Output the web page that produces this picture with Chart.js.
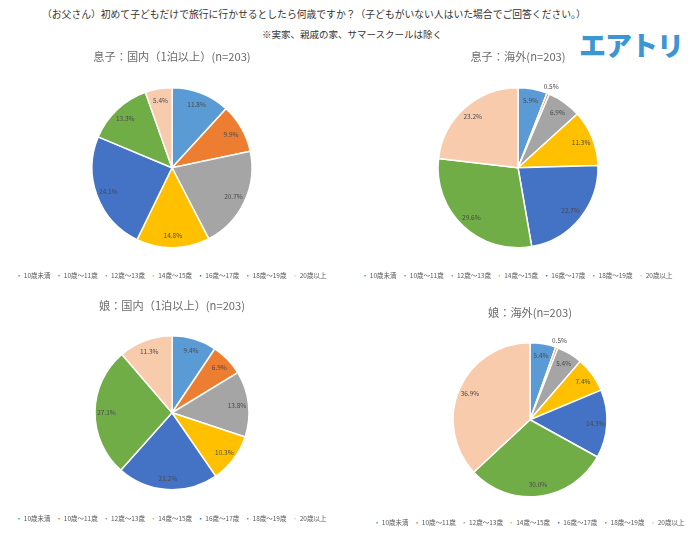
<!DOCTYPE html>
<html>
<head>
<meta charset="utf-8">
<script src="https://cdn.jsdelivr.net/npm/chart.js@4"></script>
<style>
  body { margin: 0; background: #fff; width: 700px; height: 546px; position: relative; overflow: hidden;
         font-family: "Noto Sans CJK JP", "Noto Sans", sans-serif; }
  .txt { position: absolute; white-space: nowrap; color: #333; }
  canvas { position: absolute; }
</style>
</head>
<body>
<div class="txt" id="q1" style="left:42px; top:7px; font-size:9.8px;">（お父さん）初めて子どもだけで旅行に行かせるとしたら何歳ですか？（子どもがいない人はいた場合でご回答ください。）</div>
<div class="txt" id="q2" style="left:262px; top:27px; font-size:9.5px;">※実家、親戚の家、サマースクールは除く</div>
<div class="txt" id="logo" style="left:579px; top:25px; font-size:27px; font-weight:900; color:#3c96d2; letter-spacing:-1px;">エアトリ</div>

<canvas id="c1"></canvas>
<canvas id="c2"></canvas>
<canvas id="c3"></canvas>
<canvas id="c4"></canvas>

<script>
// age groups
const ageLabels = ['10歳未満', '10歳～11歳', '12歳～13歳', '14歳～15歳', '16歳～17歳', '18歳～19歳', '20歳以上'];
const ageColors = ['#5B9BD5', '#ED7D31', '#A5A5A5', '#FFC000', '#4472C4', '#70AD47', '#F8CBAD'];

// percentages (%)
const sonDomestic = [11.8, 9.9, 20.7, 14.8, 24.1, 13.3, 5.4];
const sonOverseas = [5.9, 0.5, 6.9, 11.3, 22.7, 29.6, 23.2];
const daughterDomestic = [9.4, 6.9, 13.8, 10.3, 21.2, 27.1, 11.3];
const daughterOverseas = [5.4, 0.5, 5.4, 7.4, 14.3, 30.0, 36.9];

const titles = [
  '息子：国内（1泊以上）(n=203)',
  '息子：海外(n=203)',
  '娘：国内（1泊以上）(n=203)',
  '娘：海外(n=203)',
];

const FONT = '"Noto Sans CJK JP", "Noto Sans", sans-serif';

// draws the % labels on each slice
const sliceLabels = {
  id: 'sliceLabels',
  afterDatasetsDraw(chart) {
    const ctx = chart.ctx;
    const meta = chart.getDatasetMeta(0);
    const data = chart.data.datasets[0].data;
    ctx.save();
    ctx.font = '6.5px ' + FONT;
    ctx.fillStyle = '#4a4a4a';
    ctx.textAlign = 'center';
    ctx.textBaseline = 'middle';
    meta.data.forEach((arc, i) => {
      const { x, y, startAngle, endAngle, outerRadius } = arc.getProps(['x', 'y', 'startAngle', 'endAngle', 'outerRadius'], true);
      const mid = (startAngle + endAngle) / 2;
      const d = data[i] < 2 ? outerRadius * 1.1 : outerRadius * 0.85;
      ctx.fillText(data[i].toFixed(1) + '%', x + Math.cos(mid) * d, y + Math.sin(mid) * d);
    });
    ctx.restore();
  }
};

// place a pie so its centre / radius / title / legend land where wanted
function makePie(id, values, title, cx, cy, r, titleY, legendY) {
  const W = 340;
  const tfs = 11.2, tLH = tfs * 1.2;
  const lfs = 6.5, lpad = 7;
  const legendTop = legendY - lpad - lfs / 2;
  const legendBottom = legendTop + lfs + lpad + 10;
  const chartTop = 2 * cy - legendTop;
  const canvasTop = titleY - tLH / 2 - 4;
  const padBottom = chartTop - (titleY + tLH / 2);

  const canvas = document.getElementById(id);
  canvas.width = W;
  canvas.height = Math.round(legendBottom - canvasTop);
  canvas.style.left = (cx - W / 2) + 'px';
  canvas.style.top = canvasTop + 'px';

  return new Chart(canvas, {
    type: 'pie',
    data: {
      labels: ageLabels,
      datasets: [{
        data: values,
        backgroundColor: ageColors,
        borderColor: '#ffffff',
        borderWidth: 1.5,
        radius: r,
      }],
    },
    options: {
      responsive: false,
      animation: false,
      layout: { padding: 0 },
      plugins: {
        title: {
          display: true,
          text: title,
          color: '#6b6b6b',
          font: { family: FONT, size: tfs, weight: 'normal' },
          padding: { top: 4, bottom: padBottom },
        },
        legend: {
          position: 'bottom',
          labels: {
            boxWidth: 3,
            boxHeight: 3,
            padding: lpad,
            color: '#595959',
            font: { family: FONT, size: lfs },
          },
        },
        tooltip: { enabled: false },
      },
    },
    plugins: [sliceLabels],
  });
}

makePie('c1', sonDomestic, titles[0], 172, 168, 80, 57, 276);
makePie('c2', sonOverseas, titles[1], 518, 168, 80, 57, 276);
makePie('c3', daughterDomestic, titles[2], 172, 413, 77, 306, 519);
makePie('c4', daughterOverseas, titles[3], 530, 420, 77, 313, 523);
</script>
</body>
</html>
